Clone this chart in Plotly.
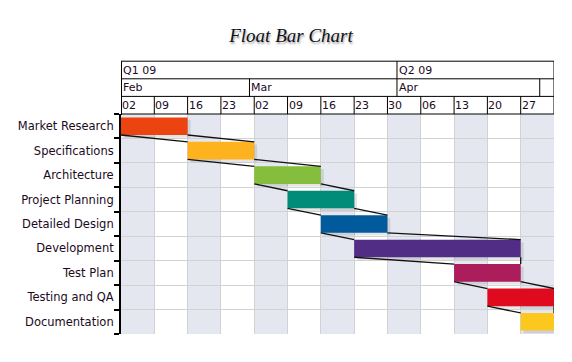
import plotly.graph_objects as go
import pandas as pd

# ---------------- data ----------------
tasks = ["Market Research", "Specifications", "Architecture", "Project Planning",
         "Detailed Design", "Development", "Test Plan", "Testing and QA", "Documentation"]
start_dates = ["2009-02-02", "2009-02-16", "2009-03-02", "2009-03-09", "2009-03-16",
               "2009-03-23", "2009-04-13", "2009-04-20", "2009-04-27"]
end_dates = ["2009-02-16", "2009-03-02", "2009-03-16", "2009-03-23", "2009-03-30",
             "2009-04-27", "2009-04-27", "2009-05-04", "2009-05-04"]
bar_colors = ["#ec4410", "#fdb21e", "#84be3c", "#008c78", "#005a9c",
              "#522d86", "#ab1d5b", "#e00a1e", "#fdc81e"]

quarter_labels = ["Q1 09", "Q2 09"]
quarter_starts = ["2009-02-02", "2009-04-01"]
month_labels = ["Feb", "Mar", "Apr"]
month_starts = ["2009-02-02", "2009-03-01", "2009-04-01", "2009-05-01"]
week_starts = ["2009-02-02", "2009-02-09", "2009-02-16", "2009-02-23", "2009-03-02",
               "2009-03-09", "2009-03-16", "2009-03-23", "2009-03-30", "2009-04-06",
               "2009-04-13", "2009-04-20", "2009-04-27"]
range_start = "2009-02-02"
range_end = "2009-05-04"

# ---------------- derived ----------------
s = pd.to_datetime(start_dates)
e = pd.to_datetime(end_dates)
dur_ms = [(b - a).total_seconds() * 1000 for a, b in zip(s, e)]
idx = list(range(len(tasks)))
BW = 0.72
half = BW / 2

fig = go.Figure()

# bar shadows
shadow_base = [(a + pd.Timedelta(hours=15)).strftime("%Y-%m-%d %H:%M") for a in s]
fig.add_trace(go.Bar(
    y=idx, x=dur_ms, base=shadow_base, orientation="h", width=BW, offset=-half + 0.11,
    marker=dict(color="rgba(0,0,0,0.10)", line=dict(width=0)),
    hoverinfo="skip", showlegend=False))

# connector lines (bottom edge of bar i to top edge of bar i+1)
cx, cy = [], []
for i in range(len(tasks) - 1):
    cx += [start_dates[i], start_dates[i + 1], None, end_dates[i], end_dates[i + 1], None]
    cy += [i + half, i + 1 - half, None, i + half, i + 1 - half, None]
fig.add_trace(go.Scatter(x=cx, y=cy, mode="lines", line=dict(color="#111111", width=1.3),
                         hoverinfo="skip", showlegend=False))

# bars
fig.add_trace(go.Bar(
    y=idx, x=dur_ms, base=start_dates, orientation="h", width=BW,
    marker=dict(color=bar_colors, line=dict(width=0)),
    showlegend=False))

shapes = []
# alternating week stripes
for k, w in enumerate(week_starts):
    if k % 2 == 0:
        w_end = (pd.Timestamp(w) + pd.Timedelta(days=7)).strftime("%Y-%m-%d")
        shapes.append(dict(type="rect", xref="x", yref="paper", x0=w, x1=w_end, y0=0, y1=1,
                           fillcolor="#e4e7ef", line=dict(width=0), layer="below"))

# header (three rows above plot)
H = 17.6 / 220.0
y_wk0, y_wk1 = 1.0, 1.0 + H
y_mo0, y_mo1 = 1.0 + H, 1.0 + 2 * H
y_q0, y_q1 = 1.0 + 2 * H, 1.0 + 3 * H
line_k = dict(color="black", width=1)
shapes.append(dict(type="rect", xref="x", yref="paper", x0=range_start, x1=range_end,
                   y0=y_wk0, y1=y_q1, line=line_k, fillcolor="rgba(0,0,0,0)"))
for yy in (y_wk1, y_mo1):
    shapes.append(dict(type="line", xref="x", yref="paper", x0=range_start, x1=range_end,
                       y0=yy, y1=yy, line=line_k))
shapes.append(dict(type="line", xref="x", yref="paper", x0=range_start, x1=range_start,
                   y0=0.995, y1=y_q1, line=dict(color="black", width=2)))
for w in week_starts[1:]:
    shapes.append(dict(type="line", xref="x", yref="paper", x0=w, x1=w,
                       y0=y_wk0, y1=y_wk1, line=line_k))
for m in month_starts[1:]:
    shapes.append(dict(type="line", xref="x", yref="paper", x0=m, x1=m,
                       y0=y_mo0, y1=y_mo1, line=line_k))
for q in quarter_starts[1:]:
    shapes.append(dict(type="line", xref="x", yref="paper", x0=q, x1=q,
                       y0=y_q0, y1=y_q1, line=line_k))

hdr_font = dict(family="DejaVu Sans", size=11, color="#1a0a22")
ann = []
for lab, d in zip(quarter_labels, quarter_starts):
    ann.append(dict(x=d, y=(y_q0 + y_q1) / 2, xref="x", yref="paper", text=lab,
                    showarrow=False, xanchor="left", yanchor="middle", xshift=0, font=hdr_font))
for lab, d in zip(month_labels, month_starts):
    ann.append(dict(x=d, y=(y_mo0 + y_mo1) / 2, xref="x", yref="paper", text=lab,
                    showarrow=False, xanchor="left", yanchor="middle", xshift=0, font=hdr_font))
for d in week_starts:
    ann.append(dict(x=d, y=(y_wk0 + y_wk1) / 2, xref="x", yref="paper",
                    text=pd.Timestamp(d).strftime("%d"),
                    showarrow=False, xanchor="left", yanchor="middle", xshift=-1, font=hdr_font))

fig.update_layout(
    width=572, height=362,
    margin=dict(l=121, r=18, t=114, b=28),
    paper_bgcolor="white", plot_bgcolor="white",
    barmode="overlay",
    shapes=shapes, annotations=ann,
    title=dict(text="Float Bar Chart", x=291 / 572, xref="container", xanchor="center",
               y=1 - 35 / 362, yref="container", yanchor="middle",
               font=dict(family="Liberation Serif", size=19, color="#101018", style="italic",
                         shadow="1px 2px 2px rgba(0,0,0,0.35)")),
    xaxis=dict(type="date", range=[range_start, range_end], tick0=range_start,
               dtick=7 * 86400000, showticklabels=False, ticks="", showgrid=True,
               gridcolor="#d2d2d2", gridwidth=1, zeroline=False, showline=False),
    yaxis=dict(range=[8.5, -0.5], tickmode="array", tickvals=idx, ticktext=tasks,
               ticks="outside", ticklen=3, tickcolor="rgba(0,0,0,0)", showgrid=False,
               zeroline=False, showline=True, linecolor="black", linewidth=2,
               tickfont=dict(family="DejaVu Sans", size=11.5, color="#1a0a22"),
               minor=dict(tickmode="array", tickvals=[i - 0.5 for i in range(len(tasks) + 1)],
                          ticks="outside", ticklen=5, tickwidth=2, tickcolor="black",
                          showgrid=True, gridcolor="#d2d2d2", gridwidth=1)),
)

fig.write_html("out.html", config={"displayModeBar": False},
               post_script="document.body.style.margin='0';")
